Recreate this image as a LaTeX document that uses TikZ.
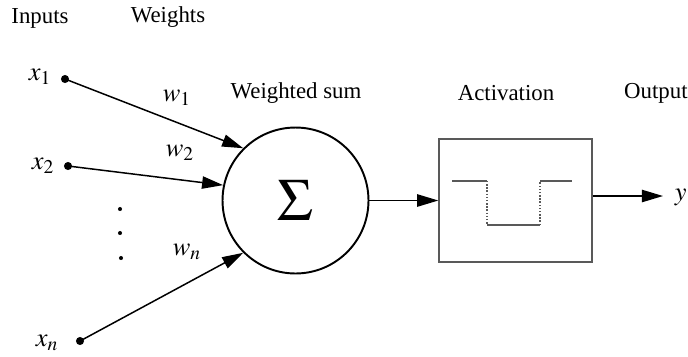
\documentclass[tikz,border=0pt]{standalone}
\usepackage{mathptmx}
\usepackage{fontspec}
\setmainfont{Liberation Serif}
\usetikzlibrary{arrows.meta,positioning}

\begin{document}
\begin{tikzpicture}[x=0.02cm, y=-0.02cm, every node/.style={font=\fontsize{13}{15}\selectfont}]

    % Styles for the neuron sketch
    \tikzset{
        inputdot/.style={circle, fill=black, inner sep=0pt, minimum size=4.6pt},
        vdot/.style={circle, fill=black, inner sep=0pt, minimum size=2.3pt},
        sumnode/.style={draw=black, circle, line width=1.1pt, minimum size=2.92cm, inner sep=0pt, font=\fontsize{34}{36}\selectfont},
        actbox/.style={draw=black!65, line width=0.8pt, minimum width=3.06cm, minimum height=2.46cm},
        arrow/.style={-{Triangle[length=12pt, width=7pt]}, line width=0.85pt},
        mathlabel/.style={font=\fontsize{15}{17}\selectfont, inner sep=0pt},
        steptrace/.style={black!65, line width=0.8pt}
    }

    \useasboundingbox (0,0) rectangle (688,356);

    % Column headers
    \node (inputs) at (40,18) {Inputs};
    \node (weights) at (168,17) {Weights};

    % Inputs with their dots
    \node[inputdot] (x1dot) at (65,79) {};
    \node[inputdot] (x2dot) at (68,166) {};
    \node[inputdot] (xndot) at (80,341) {};
    \node[mathlabel] (lx1) at (40,77) {$x_1$};
    \node[mathlabel] (lx2) at (43,166) {$x_2$};
    \node[mathlabel] (lxn) at (47,343) {$x_n$};

    \node[vdot] (vd1) at (120,209) {};
    \node[vdot] (vd2) at (120,233) {};
    \node[vdot] (vd3) at (121,258) {};

    % Summation and activation
    \node[sumnode] (sum) at (295.5,200.5) {$\Sigma$};
    \node (wsum) at (296,93) {Weighted sum};

    \node[actbox] (act) at (515.5,200.5) {};
    \node (activation) at (506,93) {Activation};
    \node[anchor=east, inner sep=0pt] (output) at (688,93) {Output};

    % Step curve inside the box
    \draw[steptrace] (452,181) -- (487,181);
    \draw[steptrace, densely dotted] (487,181) -- (487,225);
    \draw[steptrace] (487,225) -- (540,225);
    \draw[steptrace, densely dotted] (540,225) -- (540,181);
    \draw[steptrace] (540,181) -- (572,181);

    % Weights on the connections
    \node[mathlabel] (w1) at (177,98) {$w_1$};
    \node[mathlabel] (w2) at (180,153) {$w_2$};
    \node[mathlabel] (wn) at (187,252) {$w_n$};

    \draw[arrow] (x1dot.center) -- (sum.135.5);
    \draw[arrow] (x2dot.center) -- (sum.168);
    \draw[arrow] (xndot.center) -- (sum.225);
    \draw[arrow] (sum.east) -- (act.west);

    \coordinate (ytip) at (663,196);
    \node[mathlabel, anchor=east] (yout) at (687,197) {$y$};
    \draw[arrow] (act.east |- ytip) -- (ytip);

\end{tikzpicture}
\end{document}
